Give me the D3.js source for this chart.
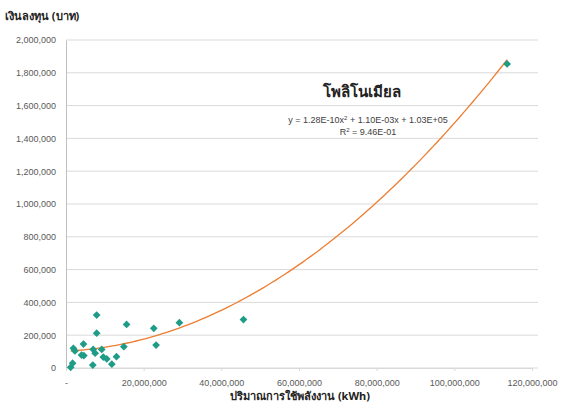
<!DOCTYPE html>
<html>
<head>
<meta charset="utf-8">
<script src="https://cdn.jsdelivr.net/npm/d3@7"></script>
<style>
  body { margin: 0; background: #fff; }
  .tick text { font-family: "Liberation Sans", sans-serif; font-size: 9px; fill: #595959; }
  .title { font-family: "Noto Sans", sans-serif; font-weight: bold; fill: #222; }
</style>
</head>
<body>
<div id="chart"></div>
<script>
// energy use (kWh) vs investment (baht)
const energyKwh = [7.9e6, 15.6e6, 7.9e6, 22.6e6, 29.2e6, 45.7e6, 113.6e6,
  1.9e6, 2.3e6, 4.5e6, 4.0e6, 4.6e6, 7.0e6, 9.2e6, 14.9e6, 23.2e6,
  7.5e6, 9.6e6, 10.5e6, 13.0e6, 11.8e6, 6.9e6, 1.7e6, 1.2e6];
const investBaht = [323000, 266000, 212000, 242000, 276000, 295000, 1854000,
  120000, 104000, 146000, 79000, 76000, 113000, 113000, 130000, 140000,
  90000, 67000, 55000, 69000, 23000, 18000, 29000, 4000];

// polynomial trendline coefficients shown on the chart: a*x^2 + b*x + c
const polyCoef = [1.28e-10, 1.10e-03, 1.03e+05];

const yTicks = [0, 200000, 400000, 600000, 800000, 1000000, 1200000, 1400000, 1600000, 1800000, 2000000];
const xTicks = [0, 20000000, 40000000, 60000000, 80000000, 100000000, 120000000];

const W = 564, H = 405;
const m = {left: 66, right: 32, top: 40, bottom: 37};

const svg = d3.select("#chart").append("svg")
  .attr("width", W).attr("height", H);

const x = d3.scaleLinear().domain([0, 120000000]).range([m.left, W - m.right]);
const y = d3.scaleLinear().domain([0, 2000000]).range([H - m.bottom, m.top]);

const fmt = d3.format(",");

// horizontal gridlines
svg.append("g")
  .selectAll("line")
  .data(yTicks)
  .enter().append("line")
    .attr("x1", m.left).attr("x2", W - m.right + 6)
    .attr("y1", d => y(d)).attr("y2", d => y(d))
    .attr("stroke", "#d9d9d9").attr("stroke-width", 1);

// y axis
const yAxis = svg.append("g")
  .attr("transform", `translate(${m.left},0)`)
  .call(d3.axisLeft(y).tickValues(yTicks).tickFormat(fmt).tickSize(0).tickPadding(10));
yAxis.select(".domain").attr("stroke", "#bfbfbf");

// x axis
const xAxis = svg.append("g")
  .attr("transform", `translate(0,${H - m.bottom})`)
  .call(d3.axisBottom(x).tickValues(xTicks).tickFormat(d => d === 0 ? "-" : fmt(d)).tickSize(3).tickPadding(9));
xAxis.select(".domain").attr("stroke", "#d9d9d9");
xAxis.selectAll(".tick line").attr("stroke", "#d9d9d9");

// trendline
const lo = d3.min(energyKwh), hi = d3.max(energyKwh);
const trend = d3.range(0, 101).map(i => {
  const xv = lo + (hi - lo) * i / 100;
  return [xv, polyCoef[0] * xv * xv + polyCoef[1] * xv + polyCoef[2]];
});
svg.append("path")
  .datum(trend)
  .attr("fill", "none")
  .attr("stroke", "#ED7D31")
  .attr("stroke-width", 1.3)
  .attr("d", d3.line().x(d => x(d[0])).y(d => y(d[1])));

// points (square diamonds, like Excel markers)
const marker = d3.symbol().type(d3.symbolSquare).size(30);
svg.append("g")
  .selectAll("path")
  .data(energyKwh.map((d, i) => [d, investBaht[i]]))
  .enter().append("path")
    .attr("d", marker)
    .attr("transform", d => `translate(${x(d[0])},${y(d[1])}) rotate(45)`)
    .attr("fill", "#1F9C87");

// titles
svg.append("text").attr("class", "title")
  .attr("x", 5).attr("y", 20).attr("font-size", 11)
  .text("เงินลงทุน (บาท)");

svg.append("text").attr("class", "title")
  .attr("x", 300).attr("y", 400).attr("font-size", 11)
  .attr("text-anchor", "middle")
  .text("ปริมาณการใช้พลังงาน (kWh)");

svg.append("text").attr("class", "title")
  .attr("x", 362).attr("y", 97).attr("font-size", 15)
  .attr("text-anchor", "middle")
  .text("โพลิโนเมียล");

const eq = svg.append("text")
  .attr("x", 368).attr("y", 123)
  .attr("text-anchor", "middle")
  .attr("font-family", "Liberation Sans, sans-serif")
  .attr("font-size", 9).attr("fill", "#404040");
eq.append("tspan").text("y = 1.28E-10x");
eq.append("tspan").attr("font-size", 6).attr("dy", -3).text("2");
eq.append("tspan").attr("dy", 3).text(" + 1.10E-03x + 1.03E+05");

const r2 = svg.append("text")
  .attr("x", 368).attr("y", 135)
  .attr("text-anchor", "middle")
  .attr("font-family", "Liberation Sans, sans-serif")
  .attr("font-size", 9).attr("fill", "#404040");
r2.append("tspan").text("R");
r2.append("tspan").attr("font-size", 6).attr("dy", -3).text("2");
r2.append("tspan").attr("dy", 3).text(" = 9.46E-01");
</script>
</body>
</html>
